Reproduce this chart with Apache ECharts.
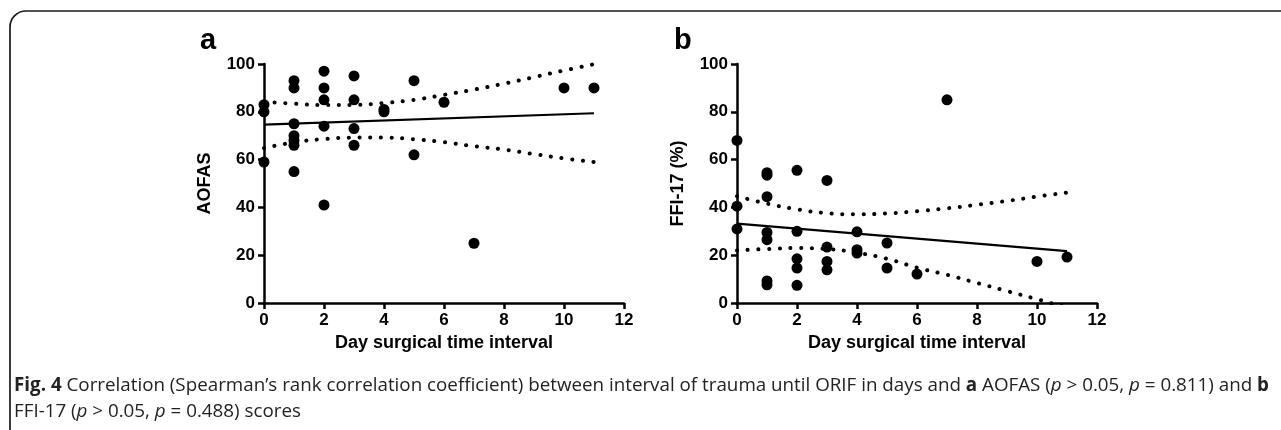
<!DOCTYPE html>
<html>
<head>
<meta charset="utf-8">
<script src="https://cdn.jsdelivr.net/npm/echarts@6/dist/echarts.min.js"></script>
<style>
html,body{margin:0;padding:0;background:#fff;}
#c{width:1281px;height:430px;}
</style>
</head>
<body>
<div id="c"></div>
<script>
// ---- data ----
const xTicks = [0, 2, 4, 6, 8, 10, 12];
const yTicks = [0, 20, 40, 60, 80, 100];

// Panel a: AOFAS vs day interval
const aofasPoints = [
  [0, 83], [0, 80], [0, 59],
  [1, 93], [1, 90], [1, 75], [1, 70], [1, 68], [1, 66], [1, 55],
  [2, 97], [2, 90], [2, 85], [2, 74], [2, 41],
  [3, 95], [3, 85], [3, 73], [3, 66],
  [4, 81], [4, 80],
  [5, 93], [5, 62],
  [6, 84],
  [7, 25],
  [10, 90],
  [11, 90]
];
const aofasFit = [[0, 74.6], [11, 79.4]];
const aofasUpper = [[0, 84.2], [1, 83.4], [2, 82.8], [3, 82.9], [4, 83.7], [5, 85.0], [6, 87.1], [7, 89.3], [8, 91.8], [9, 94.5], [10, 97.3], [11, 99.9]];
const aofasLower = [[0, 64.8], [1, 67.2], [2, 68.6], [3, 69.2], [4, 69.2], [5, 68.5], [6, 67.3], [7, 65.6], [8, 64.2], [9, 62.3], [10, 60.5], [11, 59.0]];

// Panel b: FFI-17 vs day interval
const ffiPoints = [
  [0, 68], [0, 40.5], [0, 31],
  [1, 54.5], [1, 53.5], [1, 44.5], [1, 29.5], [1, 26.5], [1, 9.2], [1, 7.6],
  [2, 55.5], [2, 30], [2, 18.5], [2, 14.6], [2, 7.4],
  [3, 51.3], [3, 23.4], [3, 17.4], [3, 13.9],
  [4, 29.8], [4, 22.3], [4, 20.9],
  [5, 25.1], [5, 14.6],
  [6, 12.1],
  [7, 85],
  [10, 17.4],
  [11, 19.2]
];
const ffiFit = [[0, 33.2], [11, 21.7]];
const ffiUpper = [[0, 44.7], [1, 41.6], [2, 39.2], [3, 37.6], [4, 37.1], [5, 37.5], [6, 38.4], [7, 39.6], [8, 41.1], [9, 42.7], [10, 44.5], [11, 46.2]];
const ffiLower = [[0, 22.0], [1, 22.6], [2, 23.0], [3, 22.6], [4, 21.0], [5, 18.5], [6, 14.8], [7, 11.8], [8, 8.4], [9, 5.0], [10, 1.6], [11, -2.0]];

const xTitle = 'Day surgical time interval';
const yTitles = ['AOFAS', 'FFI-17 (%)'];
const panelLetters = ['a', 'b'];
const captionLine1 = '{b|Fig. 4} Correlation (Spearman’s rank correlation coefficient) between interval of trauma until ORIF in days and {b|a} AOFAS ({i|p} > 0.05, {i|p} = 0.811) and {b|b}';
const captionLine2 = 'FFI-17 ({i|p} > 0.05, {i|p} = 0.488) scores';

// ---- chart ----
const FONT = '"Liberation Sans", Arial, Helvetica, sans-serif';
const CAP_FONT = '"Open Sans", sans-serif';
const CAP_SIZE = 18.8;
const chart = echarts.init(document.getElementById('c'), null, {renderer: 'canvas'});

function xAxisCfg(gi) {
  return {
    gridIndex: gi, type: 'value', min: xTicks[0], max: xTicks[xTicks.length - 1], interval: 2,
    name: xTitle, nameLocation: 'middle', nameGap: 27,
    nameTextStyle: {fontFamily: FONT, fontWeight: 'bold', fontSize: 18, color: '#000'},
    axisLine: {show: true, onZero: false, lineStyle: {color: '#000', width: 2.5}},
    axisTick: {show: true, length: 6, lineStyle: {color: '#000', width: 2.5}},
    axisLabel: {fontFamily: FONT, fontWeight: 'bold', fontSize: 17, color: '#000', margin: 9},
    splitLine: {show: false}
  };
}
function yAxisCfg(gi, name) {
  return {
    gridIndex: gi, type: 'value', min: yTicks[0], max: yTicks[yTicks.length - 1], interval: 20,
    name: name, nameLocation: 'middle', nameGap: 50,
    nameTextStyle: {fontFamily: FONT, fontWeight: 'bold', fontSize: 18, color: '#000'},
    axisLine: {show: true, onZero: false, lineStyle: {color: '#000', width: 2.5}},
    axisTick: {show: true, length: 6, lineStyle: {color: '#000', width: 2.5}},
    axisLabel: {fontFamily: FONT, fontWeight: 'bold', fontSize: 17, color: '#000', margin: 9},
    splitLine: {show: false}
  };
}
function scatterS(gi, data) {
  return {type: 'scatter', xAxisIndex: gi, yAxisIndex: gi, data: data, symbol: 'circle', symbolSize: 11,
    itemStyle: {color: '#000', opacity: 1}, z: 5, silent: true};
}
function fitS(gi, data) {
  return {type: 'line', xAxisIndex: gi, yAxisIndex: gi, data: data, symbol: 'none',
    lineStyle: {color: '#000', width: 2.2}, z: 4, silent: true};
}
function bandS(gi, data) {
  return {type: 'line', xAxisIndex: gi, yAxisIndex: gi, data: data, symbol: 'none', smooth: true, clip: true,
    lineStyle: {color: '#000', width: 4, type: [0.1, 10.6], cap: 'round'}, z: 3, silent: true};
}
function capStyle(text) {
  return {text: text, fontFamily: CAP_FONT, fontSize: CAP_SIZE, fill: '#222', verticalAlign: 'middle',
    rich: {
      b: {fontWeight: 'bold', fontFamily: CAP_FONT, fontSize: CAP_SIZE, fill: '#222'},
      i: {fontStyle: 'italic', fontFamily: CAP_FONT, fontSize: CAP_SIZE, fill: '#222'}
    }};
}

const option = {
  animation: false,
  backgroundColor: '#fff',
  grid: [
    {left: 264, width: 360, top: 64, height: 239},
    {left: 737, width: 360, top: 64, height: 239}
  ],
  xAxis: [xAxisCfg(0), xAxisCfg(1)],
  yAxis: [yAxisCfg(0, yTitles[0]), yAxisCfg(1, yTitles[1])],
  series: [
    scatterS(0, aofasPoints), fitS(0, aofasFit), bandS(0, aofasUpper), bandS(0, aofasLower),
    scatterS(1, ffiPoints), fitS(1, ffiFit), bandS(1, ffiUpper), bandS(1, ffiLower)
  ],
  graphic: [
    {type: 'rect', shape: {x: 10, y: 11, width: 1400, height: 600, r: [16, 0, 0, 0]},
      style: {fill: 'none', stroke: '#1a1a1a', lineWidth: 1.7}, silent: true},
    {type: 'text', x: 200, y: 41, style: {text: panelLetters[0], font: 'bold 29px ' + FONT, fill: '#000', verticalAlign: 'middle'}},
    {type: 'text', x: 674, y: 41, style: {text: panelLetters[1], font: 'bold 29px ' + FONT, fill: '#000', verticalAlign: 'middle'}},
    {type: 'text', x: 14, y: 386, style: capStyle(captionLine1)},
    {type: 'text', x: 14, y: 412, style: capStyle(captionLine2)}
  ]
};
chart.setOption(option);
</script>
</body>
</html>
